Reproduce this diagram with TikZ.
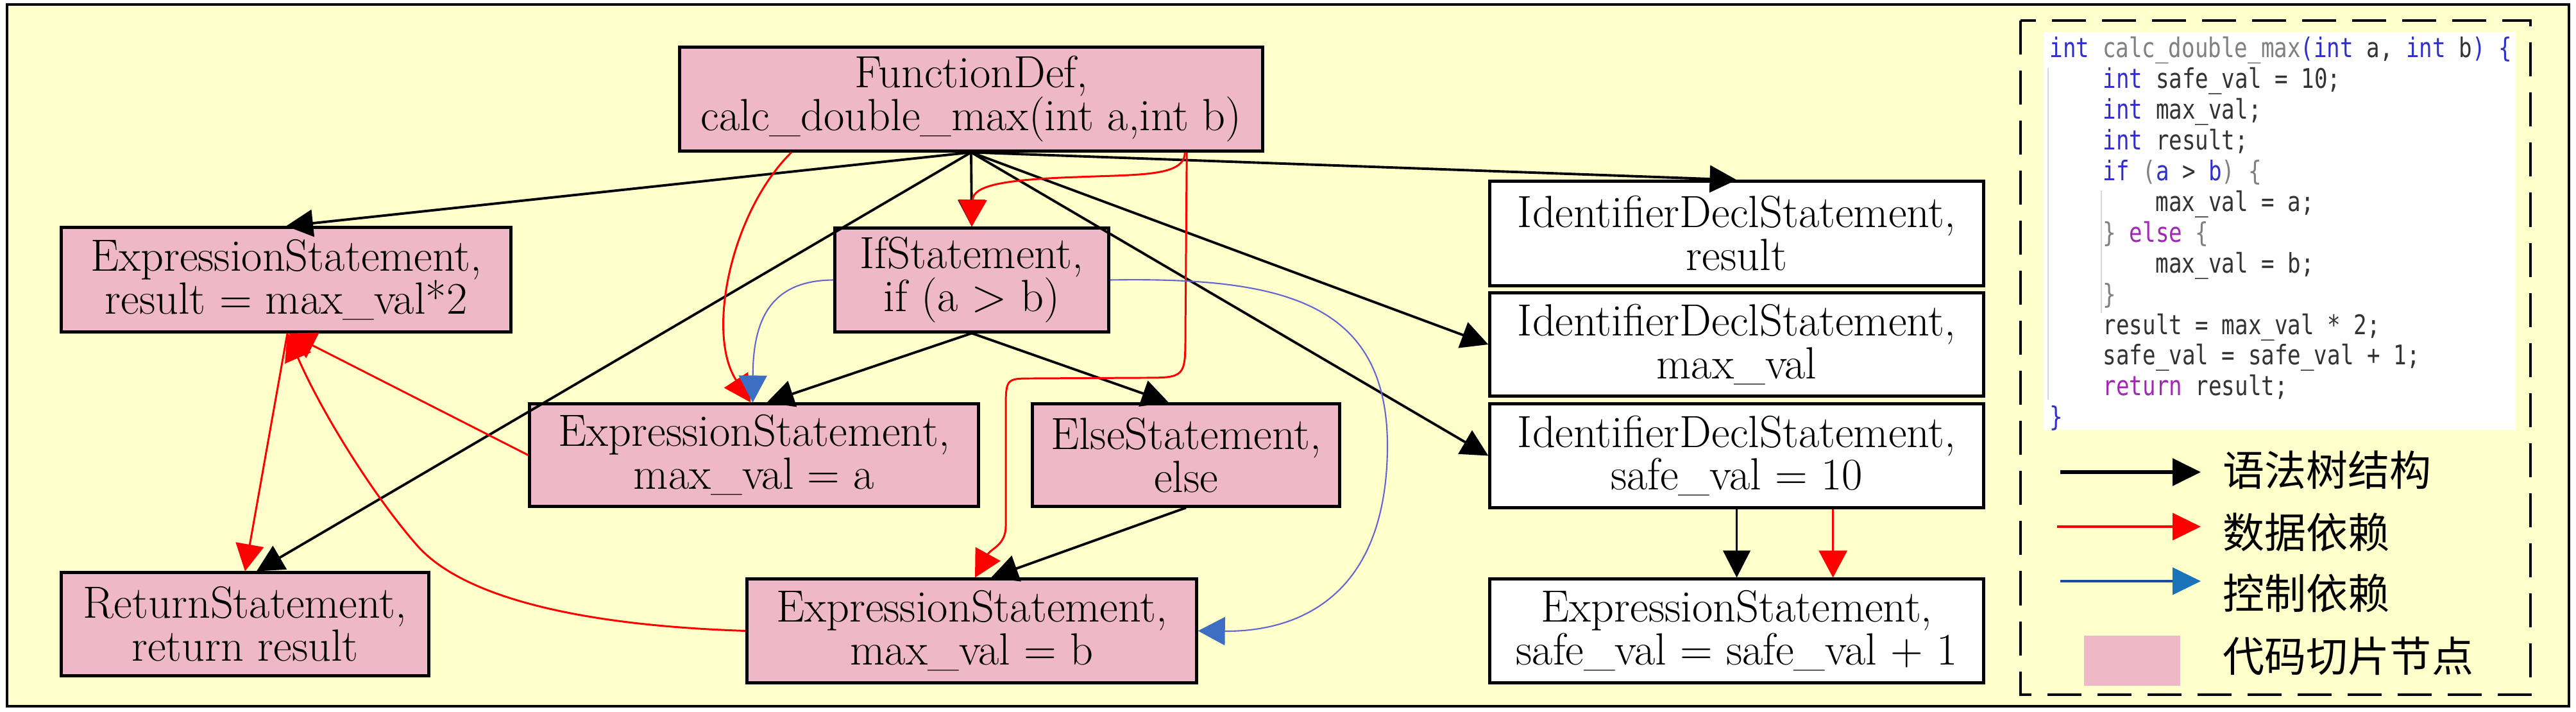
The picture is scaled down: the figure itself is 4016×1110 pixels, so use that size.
\documentclass[tikz,border=0pt]{standalone}
\usepackage{fontspec}
\usepackage{graphicx}
\newfontfamily\cjk{Noto Sans CJK SC}
\newfontfamily\codefont{DejaVu Sans Mono}
\usetikzlibrary{arrows.meta}
\definecolor{bgyellow}{RGB}{255,255,204}
\definecolor{slicepink}{RGB}{239,184,200}
\definecolor{ctrlblue}{RGB}{100,100,210}
\definecolor{ctrlhead}{RGB}{60,110,195}
\definecolor{legblue}{RGB}{30,75,160}
\definecolor{leghead}{RGB}{25,115,185}
\definecolor{kwblue}{RGB}{48,48,200}
\definecolor{codegray}{RGB}{128,128,128}
\definecolor{codedark}{RGB}{51,51,51}
\definecolor{codepurple}{RGB}{160,40,180}
\definecolor{guidegray}{RGB}{215,215,215}
\newcommand{\kwc}[1]{\textcolor{kwblue}{#1}}
\newcommand{\cgc}[1]{\textcolor{codegray}{#1}}
\newcommand{\cpc}[1]{\textcolor{codepurple}{#1}}
\newcommand{\cl}[1]{\scalebox{0.81}[1]{#1}}
\tikzset{
  stmtbox/.style={draw=black, line width=1.4pt, rectangle, inner sep=0pt, align=center,
    font=\fontsize{20}{19}\selectfont, text=black},
  slicebox/.style={stmtbox, fill=slicepink},
  plainbox/.style={stmtbox, fill=white},
  astedge/.style={draw=black, line width=1.1pt, -{Triangle[length=0.42cm,width=0.42cm]}},
  depedge/.style={draw=red, line width=0.85pt, -{Triangle[length=0.42cm,width=0.44cm]}},
  ctrledge/.style={draw=ctrlblue, line width=0.6pt, -{Triangle[length=0.42cm,width=0.44cm,color=ctrlhead]}},
  codeline/.style={anchor=base west, inner sep=0pt, font=\codefont\fontsize{12}{13}\selectfont, text=codedark},
  legtext/.style={anchor=west, inner sep=0pt, font=\cjk\fontsize{18.5}{20}\selectfont},
}
\begin{document}
\begin{tikzpicture}[x=0.01cm,y=-0.01cm]
\useasboundingbox (0,0) rectangle (4016,1110);
\fill[white] (0,0) rectangle (4016,1110);
\draw[line width=1.1pt, fill=bgyellow] (11,7) rectangle (4005,1101);
% legend frame and code
\draw[line width=1.2pt, dash pattern=on 0.53cm off 0.25cm] (3150,32) rectangle (3945,1083);
\fill[white] (3186,50) rectangle (3922,670);
\draw[guidegray, line width=0.6pt] (3193,106) -- (3193,623);
\draw[guidegray, line width=0.6pt] (3276,297) -- (3276,488);
\node[codeline] (c1) at (3195,90) {\cl{\kwc{int} \cgc{calc\_double\_max}\kwc{(int} a, \kwc{int} b\kwc{) \{}}};
\node[codeline] (c2) at (3278,137.9) {\cl{\kwc{int} safe\_val = 10;}};
\node[codeline] (c3) at (3278,185.8) {\cl{\kwc{int} max\_val;}};
\node[codeline] (c4) at (3278,233.7) {\cl{\kwc{int} result;}};
\node[codeline] (c5) at (3278,281.6) {\cl{\kwc{if} \cgc{(}\kwc{a} > \kwc{b}\cgc{) \{}}};
\node[codeline] (c6) at (3360,329.5) {\cl{max\_val = a;}};
\node[codeline] (c7) at (3278,377.4) {\cl{\cgc{\}} \cpc{else} \cgc{\{}}};
\node[codeline] (c8) at (3360,425.3) {\cl{max\_val = b;}};
\node[codeline] (c9) at (3278,473.2) {\cl{\cgc{\}}}};
\node[codeline] (c10) at (3278,521.1) {\cl{result = max\_val * 2;}};
\node[codeline] (c11) at (3278,569.0) {\cl{safe\_val = safe\_val + 1;}};
\node[codeline] (c12) at (3278,616.9) {\cl{\cpc{return} result;}};
\node[codeline] (c13) at (3195,664.8) {\cl{\kwc{\}}}};
% legend
\coordinate (lb1) at (3212,736); \coordinate (le1) at (3431,736);
\coordinate (lb2) at (3207,821); \coordinate (le2) at (3431,821);
\coordinate (lb3) at (3212,906); \coordinate (le3) at (3431,906);
\draw[line width=1.6pt, -{Triangle[length=0.44cm,width=0.42cm]}] (lb1) -- (le1);
\draw[red, line width=1.2pt, -{Triangle[length=0.44cm,width=0.42cm]}] (lb2) -- (le2);
\draw[legblue, line width=1.2pt, -{Triangle[length=0.44cm,width=0.42cm,color=leghead]}] (lb3) -- (le3);
\node[fill=slicepink, minimum width=1.5cm, minimum height=0.78cm, inner sep=0pt] (legsq) at (3324,1030) {};
\node[legtext] (t1) at (3465,733) {语法树结构};
\node[legtext] (t2) at (3465,830) {数据依赖};
\node[legtext] (t3) at (3465,925) {控制依赖};
\node[legtext] (t4) at (3465,1023) {代码切片节点};
% graph nodes
\node[slicebox, minimum width=9.08cm, minimum height=1.61cm] (fd) at (1514,154.5) {FunctionDef,\\calc\_double\_max(int a,int b)};
\node[slicebox, minimum width=7.00cm, minimum height=1.62cm] (er) at (446,436) {ExpressionStatement,\\result = max\_val*2};
\node[slicebox, minimum width=5.72cm, minimum height=1.60cm] (ret) at (382,973) {ReturnStatement,\\return result};
\node[slicebox, minimum width=4.26cm, minimum height=1.61cm] (ifs) at (1515,436.5) {IfStatement,\\if (a $>$ b)};
\node[slicebox, minimum width=6.99cm, minimum height=1.59cm] (ea) at (1175.5,709.5) {ExpressionStatement,\\max\_val = a};
\node[slicebox, minimum width=4.78cm, minimum height=1.59cm] (els) at (1849,709.5) {ElseStatement,\\else};
\node[slicebox, minimum width=7.00cm, minimum height=1.61cm] (eb) at (1515,983.5) {ExpressionStatement,\\max\_val = b};
\node[plainbox, minimum width=7.69cm, minimum height=1.62cm] (idr) at (2707.5,364) {IdentifierDeclStatement,\\result};
\node[plainbox, minimum width=7.69cm, minimum height=1.60cm] (idm) at (2707.5,537) {IdentifierDeclStatement,\\max\_val};
\node[plainbox, minimum width=7.69cm, minimum height=1.61cm] (ids) at (2707.5,710.5) {IdentifierDeclStatement,\\safe\_val = 10};
\node[plainbox, minimum width=7.69cm, minimum height=1.61cm] (es) at (2707.5,983.5) {ExpressionStatement,\\safe\_val = safe\_val + 1};
% syntax tree edges
\draw[astedge] (fd.south) -- (er.north);
\draw[astedge] (fd.south) -- ([xshift=0.18cm]ret.north);
\draw[astedge] (fd.south) -- (ifs.north);
\draw[astedge] (fd.south) -- (idr.north);
\draw[astedge] (fd.south) -- (idm.west);
\draw[astedge] (fd.south) -- (ids.west);
\draw[astedge] (ifs.south) -- ([xshift=0.2cm]ea.north);
\draw[astedge] (ifs.south) -- ([xshift=-0.27cm]els.north);
\draw[astedge] (els.south) -- ([xshift=0.3cm]eb.north);
\draw[astedge] (ids.south) -- (es.north);
% data dependence
\draw[depedge] ([xshift=-2.8cm]fd.south) .. controls (1140,330) and (1100,520) .. ([xshift=-0.05cm]ea.north);
\draw[depedge] ([xshift=3.33cm]fd.south) .. controls (1847,275) and (1780,272) .. (1680,276) .. controls (1560,280) and (1517,290) .. (ifs.north);
\draw[depedge] ([xshift=3.36cm]fd.south) -- (1848,520) .. controls (1848,589) .. (1780,589) -- (1610,590) .. controls (1568,590) .. (1568,640) -- (1568,820) .. controls (1568,850) and (1545,855) .. ([xshift=0.05cm]eb.north);
\draw[depedge] (ea.west) -- ([xshift=0.04cm]er.south);
\draw[depedge] (eb.west) .. controls (900,975) and (720,930) .. (650,850) .. controls (580,770) and (500,640) .. ([xshift=0.02cm]er.south);
\draw[depedge] ([xshift=0.02cm]er.south) -- (ret.north);
\draw[depedge] ([xshift=1.5cm]ids.south) -- ([xshift=1.5cm]es.north);
% control dependence
\draw[ctrledge] (ifs.west) .. controls (1200,437) and (1174,500) .. ([xshift=-0.02cm]ea.north);
\draw[ctrledge] (ifs.east) .. controls (2000,432) and (2165,470) .. (2163,700) .. controls (2160,950) and (2000,985) .. (eb.east);
\end{tikzpicture}
\end{document}
